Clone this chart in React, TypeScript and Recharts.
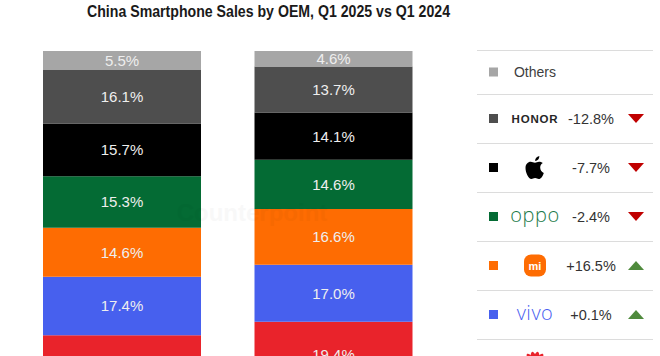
import React from "react";
import { Bar, BarChart, LabelList, XAxis, YAxis } from "recharts";

// stack order: bottom -> top
const quarters = ["Q1 2024", "Q1 2025"];
const brands = ["Huawei", "vivo", "Xiaomi", "OPPO", "Apple", "HONOR", "Others"];
const shareQ1_2024 = [15.4, 17.4, 14.6, 15.3, 15.7, 16.1, 5.5];
const shareQ1_2025 = [19.4, 17.0, 16.6, 14.6, 14.1, 13.7, 4.6];
const yoyChange = ["+29.0%", "+0.1%", "+16.5%", "-2.4%", "-7.7%", "-12.8%", ""];
const brandColors = ["#e9232b", "#4760ee", "#fe6c02", "#046b34", "#000000", "#4e4e4e", "#a6a6a6"];

const TITLE = "China Smartphone Sales by OEM, Q1 2025 vs Q1 2024";

const seriesByQuarter = [shareQ1_2024, shareQ1_2025];
const data = quarters.map((quarter, qi) => {
  const row: Record<string, string | number> = { quarter };
  brands.forEach((b, bi) => {
    row[b] = seriesByQuarter[qi][bi];
  });
  return row;
});

const APPLE_BODY =
  "M10 7.2 C8.6 7.2 7.3 6.2 5.7 6.2 C3 6.2 0.5 8.5 0.5 12.4 C0.5 16.9 3.6 23.5 6.4 23.5 C7.8 23.5 8.4 22.6 10.1 22.6 C11.8 22.6 12.3 23.5 13.8 23.5 C15.9 23.5 17.9 20.3 18.8 17.4 C16.5 16.5 15.2 14.5 15.2 12.1 C15.2 10 16.3 8.5 17.8 7.6 C16.7 6.7 15.2 6.2 14 6.2 C12.4 6.2 11.3 7.2 10 7.2 Z";
const APPLE_LEAF = "M10.1 5.6 C10 3.3 11.7 1 14.3 0.6 C14.5 3.2 12.6 5.5 10.1 5.6 Z";

function BrandMark({ brand, cy }: { brand: string; cy: number }) {
  const cx = 58;
  switch (brand) {
    case "Others":
      return (
        <text x={cx} y={cy} textAnchor="middle" dominantBaseline="central" fontSize={14} fill="#404040">
          Others
        </text>
      );
    case "HONOR":
      return (
        <text x={cx} y={cy} textAnchor="middle" dominantBaseline="central" fontSize={11.5} fontWeight={700} letterSpacing={0.8} fill="#262626">
          HONOR
        </text>
      );
    case "Apple":
      return (
        <g transform={`translate(${cx - 10},${cy - 12})`}>
          <path d={APPLE_BODY} fill="#000" />
          <path d={APPLE_LEAF} fill="#000" />
        </g>
      );
    case "OPPO":
      return (
        <text x={cx} y={cy - 2} textAnchor="middle" dominantBaseline="central" fontSize={20} fontFamily="'Open Sans', sans-serif" fontWeight={300} letterSpacing={0.5} fill="#1c7a4a">
          oppo
        </text>
      );
    case "Xiaomi":
      return (
        <g>
          <rect x={cx - 11} y={cy - 11} width={22} height={22} rx={7} fill="#fe6c02" />
          <text x={cx} y={cy} textAnchor="middle" dominantBaseline="central" fontSize={11} fontWeight={700} fill="#fff">
            mi
          </text>
        </g>
      );
    case "vivo":
      return (
        <text x={cx} y={cy - 2} textAnchor="middle" dominantBaseline="central" fontSize={20} fontFamily="'Open Sans', sans-serif" fontWeight={300} letterSpacing={0.5} fill="#4a5ff0">
          vivo
        </text>
      );
    case "Huawei": {
      const angles = [-78.75, -56.25, -33.75, -11.25, 11.25, 33.75, 56.25, 78.75];
      return (
        <g transform={`translate(${cx},${cy + 2})`}>
          {angles.map((a) => (
            <ellipse key={a} cx={0} cy={-7.5} rx={2.6} ry={6.5} fill="#e9232b" transform={`rotate(${a})`} />
          ))}
        </g>
      );
    }
    default:
      return null;
  }
}

function LegendPanel() {
  const order = brands.map((_, i) => i).reverse();
  const rowTop = (k: number) => (k === 0 ? 0 : 44 + (k - 1) * 49);
  const rowH = (k: number) => (k === 0 ? 44 : 49);
  return (
    <svg width={183} height={320} style={{ position: "absolute", left: 477, top: 50 }}>
      {order.map((bi, k) => {
        const top = rowTop(k);
        const cy = top + rowH(k) / 2;
        const change = yoyChange[bi];
        const down = change.startsWith("-");
        return (
          <g key={brands[bi]}>
            <line x1={0} x2={176} y1={top + 0.5} y2={top + 0.5} stroke="#dcdcdc" strokeWidth={1} />
            <rect x={12} y={cy - 4.5} width={9} height={9} fill={brandColors[bi]} />
            <BrandMark brand={brands[bi]} cy={cy} />
            {change && (
              <>
                <text x={114} y={cy} textAnchor="middle" dominantBaseline="central" fontSize={14.5} fill="#333">
                  {change}
                </text>
                <polygon
                  points={
                    down
                      ? `151,${cy - 4.5} 167,${cy - 4.5} 159,${cy + 4.5}`
                      : `151,${cy + 4.5} 167,${cy + 4.5} 159,${cy - 4.5}`
                  }
                  fill={down ? "#c00000" : "#4f8a3c"}
                />
              </>
            )}
          </g>
        );
      })}
    </svg>
  );
}

export default function App() {
  return (
    <div
      style={{
        position: "absolute",
        left: 0,
        top: 0,
        width: 660,
        height: 356,
        overflow: "hidden",
        background: "#fff",
        fontFamily: "'Liberation Sans', Arial, sans-serif",
      }}
    >
      <div style={{ position: "absolute", left: 0, top: 0 }}>
        <BarChart
          width={660}
          height={460}
          data={data}
          margin={{ top: 51, right: 221, bottom: 43, left: 16 }}
          barSize={158}
        >
          <XAxis dataKey="quarter" height={30} axisLine={false} tickLine={false} />
          <YAxis hide domain={[0, 100]} />
          {brands.map((b, i) => (
            <Bar key={b} dataKey={b} stackId="share" fill={brandColors[i]} isAnimationActive={false}>
              <LabelList
                dataKey={b}
                position="center"
                fill="#eeeeee"
                fontSize={15}
                formatter={(v: number) => `${Number(v).toFixed(1)}%`}
              />
            </Bar>
          ))}
        </BarChart>
      </div>
      <svg width={660} height={30} style={{ position: "absolute", left: 0, top: 0 }}>
        <text
          x={268.5}
          y={17}
          textAnchor="middle"
          fontSize={17}
          fontWeight={700}
          fill="#1a1a1a"
          textLength={363}
          lengthAdjust="spacingAndGlyphs"
        >
          {TITLE}
        </text>
      </svg>
      <svg width={660} height={356} style={{ position: "absolute", left: 0, top: 0, pointerEvents: "none" }}>
        <text x={252} y={221} textAnchor="middle" fontSize={24} fontWeight={700} fill="#000" opacity={0.025}>
          Counterpoint
        </text>
      </svg>
      <LegendPanel />
    </div>
  );
}
